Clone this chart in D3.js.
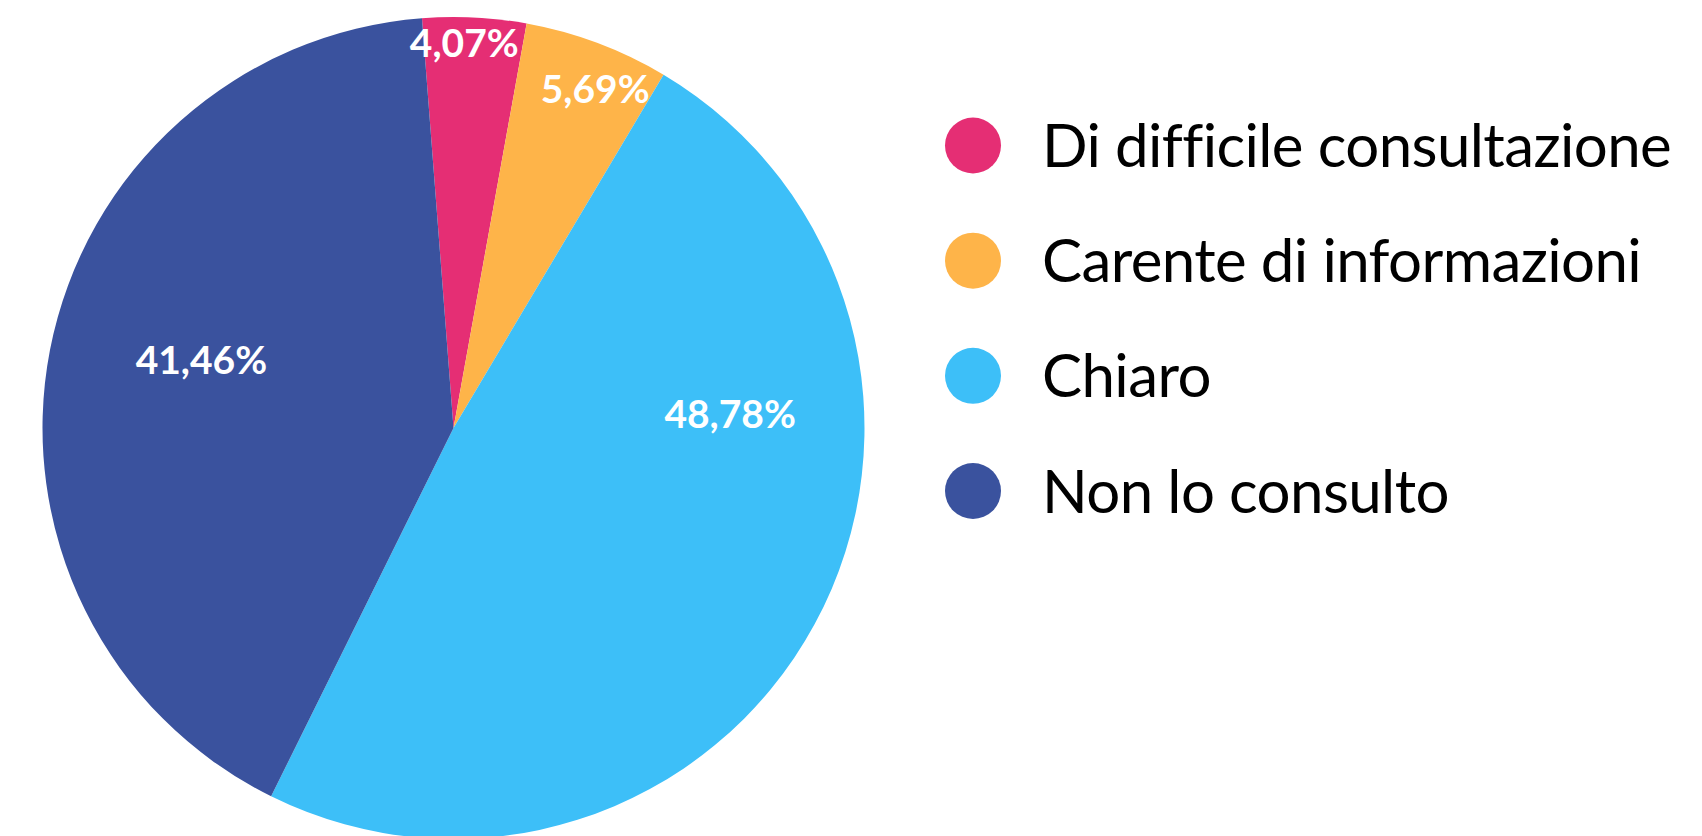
<!DOCTYPE html>
<html>
<head>
<meta charset="utf-8">
<script src="https://cdn.jsdelivr.net/npm/d3@7"></script>
<style>
  html, body { margin: 0; padding: 0; background: #fff; }
  svg { display: block; }
</style>
</head>
<body>
<div id="chart"></div>
<script>
// data
const categories = ['Di difficile consultazione', 'Carente di informazioni', 'Chiaro', 'Non lo consulto'];
const percents = [4.07, 5.69, 48.78, 41.46];
const colors = ['#e52e74', '#feb449', '#3dbff8', '#3a529e'];

// where each percentage sits (angle in degrees from 12 o'clock, share of radius)
const labelSpots = [[1.6, 0.938], [22.7, 0.893], [87.1, 0.674], [285, 0.635]];

const width = 1702, height = 836;
const cx = 453.5, cy = 428, radius = 411;
const startAngle = -4.4 * Math.PI / 180;

const svg = d3.select('#chart').append('svg')
  .attr('width', width).attr('height', height);

const pie = d3.pie()
  .sort(null)
  .value(d => d)
  .startAngle(startAngle)
  .endAngle(startAngle + 2 * Math.PI);

const arc = d3.arc().innerRadius(0).outerRadius(radius);

const g = svg.append('g').attr('transform', `translate(${cx},${cy})`);

const arcs = pie(percents);

g.selectAll('path.slice').data(arcs).enter().append('path')
  .attr('class', 'slice')
  .attr('fill', (d, i) => colors[i])
  .attr('d', arc);

const fmt = v => v.toFixed(2).replace('.', ',') + '%';

g.selectAll('text.val').data(arcs).enter().append('text')
  .attr('class', 'val')
  .attr('transform', (d, i) => {
    let a = labelSpots[i][0] * Math.PI / 180;
    let r = labelSpots[i][1] * radius;
    let p = d3.arc().innerRadius(r).outerRadius(r).startAngle(a).endAngle(a).centroid();
    return `translate(${p[0]},${p[1]})`;
  })
  .attr('dy', '0.36em')
  .attr('text-anchor', 'middle')
  .attr('fill', '#fff')
  .style('font-family', 'Lato, "Open Sans", sans-serif')
  .style('font-weight', 'bold')
  .style('font-size', '39px')
  .text(d => fmt(d.data));

// legend
const legendY = d3.scalePoint()
  .domain(categories)
  .range([145.5, 491])

const legend = svg.append('g');
const item = legend.selectAll('g').data(categories).enter().append('g')
  .attr('transform', d => `translate(973,${legendY(d)})`);

item.append('circle')
  .attr('r', 28)
  .attr('fill', (d, i) => colors[i]);

item.append('text')
  .attr('x', 69)
  .attr('dy', '0.36em')
  .attr('fill', '#000')
  .style('font-family', 'Lato, sans-serif')
  .style('font-size', '60px')
  .style('letter-spacing', '-0.6px')
  .text(d => d);
</script>
</body>
</html>
